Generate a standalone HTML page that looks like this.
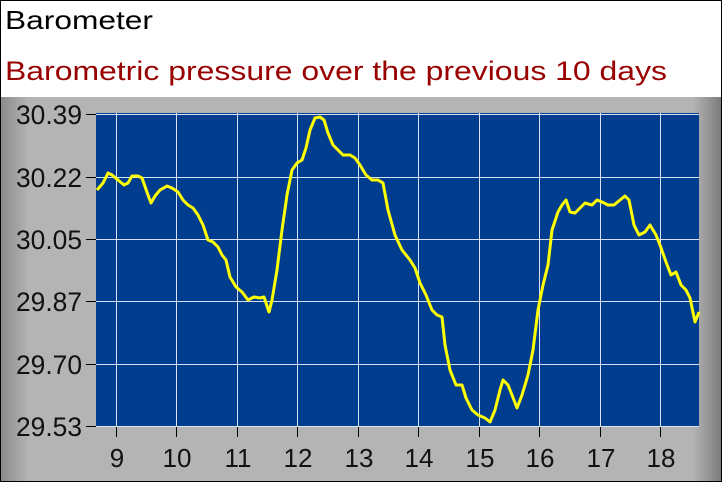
<!DOCTYPE html>
<html><head><style>
html,body{margin:0;padding:0;background:#fff}
svg{display:block}
text{font-family:"Liberation Sans",Arial,sans-serif}
</style></head><body>
<svg width="722" height="482" xmlns="http://www.w3.org/2000/svg">
<defs>
<linearGradient id="g" x1="0" x2="1" y1="0" y2="0">
<stop offset="0" stop-color="#8a8a8a"/><stop offset="0.04" stop-color="#b4b4b4"/><stop offset="0.96" stop-color="#b4b4b4"/><stop offset="1" stop-color="#7a7a7a"/>
</linearGradient>
</defs>
<rect x="0" y="0" width="722" height="482" fill="#fff"/>
<rect x="0" y="97" width="722" height="385" fill="url(#g)"/>
<rect x="0.5" y="0.5" width="721" height="481" fill="none" stroke="#000"/>
<text x="5" y="29" font-size="26" fill="#000" textLength="148" lengthAdjust="spacingAndGlyphs">Barometer</text>
<text x="5" y="80" font-size="27" fill="#990000" textLength="662" lengthAdjust="spacingAndGlyphs">Barometric pressure over the previous 10 days</text>
<rect x="96" y="113" width="603" height="314" fill="#003d8f"/>
<g stroke="#d8e2f4" stroke-width="1">
<line x1="96" x2="699" y1="114.5" y2="114.5"/>
<line x1="96" x2="699" y1="177.5" y2="177.5"/>
<line x1="96" x2="699" y1="239.5" y2="239.5"/>
<line x1="96" x2="699" y1="301.5" y2="301.5"/>
<line x1="96" x2="699" y1="364.5" y2="364.5"/>
<line x1="96" x2="699" y1="426.5" y2="426.5"/>
<line y1="113" y2="427" x1="116.5" x2="116.5"/>
<line y1="113" y2="427" x1="176.5" x2="176.5"/>
<line y1="113" y2="427" x1="237.5" x2="237.5"/>
<line y1="113" y2="427" x1="297.5" x2="297.5"/>
<line y1="113" y2="427" x1="358.5" x2="358.5"/>
<line y1="113" y2="427" x1="418.5" x2="418.5"/>
<line y1="113" y2="427" x1="479.5" x2="479.5"/>
<line y1="113" y2="427" x1="539.5" x2="539.5"/>
<line y1="113" y2="427" x1="600.5" x2="600.5"/>
<line y1="113" y2="427" x1="660.5" x2="660.5"/>
</g>
<g stroke="#000" stroke-width="1">
<line x1="86" x2="96" y1="114.5" y2="114.5"/><line x1="86" x2="96" y1="177.5" y2="177.5"/><line x1="86" x2="96" y1="239.5" y2="239.5"/><line x1="86" x2="96" y1="301.5" y2="301.5"/><line x1="86" x2="96" y1="364.5" y2="364.5"/><line x1="86" x2="96" y1="426.5" y2="426.5"/>
<line y1="427" y2="437" x1="116.5" x2="116.5"/><line y1="427" y2="437" x1="176.5" x2="176.5"/><line y1="427" y2="437" x1="237.5" x2="237.5"/><line y1="427" y2="437" x1="297.5" x2="297.5"/><line y1="427" y2="437" x1="358.5" x2="358.5"/><line y1="427" y2="437" x1="418.5" x2="418.5"/><line y1="427" y2="437" x1="479.5" x2="479.5"/><line y1="427" y2="437" x1="539.5" x2="539.5"/><line y1="427" y2="437" x1="600.5" x2="600.5"/><line y1="427" y2="437" x1="660.5" x2="660.5"/>
</g>
<g font-size="27" fill="#111" text-anchor="end">
<text x="82" y="124" textLength="66" lengthAdjust="spacingAndGlyphs">30.39</text><text x="82" y="187" textLength="66" lengthAdjust="spacingAndGlyphs">30.22</text><text x="82" y="249" textLength="66" lengthAdjust="spacingAndGlyphs">30.05</text><text x="82" y="311" textLength="66" lengthAdjust="spacingAndGlyphs">29.87</text><text x="82" y="374" textLength="66" lengthAdjust="spacingAndGlyphs">29.70</text><text x="82" y="436" textLength="66" lengthAdjust="spacingAndGlyphs">29.53</text>
</g>
<g font-size="26" fill="#111" text-anchor="middle">
<text x="117" y="467">9</text><text x="177" y="467">10</text><text x="238" y="467">11</text><text x="298" y="467">12</text><text x="359" y="467">13</text><text x="419" y="467">14</text><text x="480" y="467">15</text><text x="540" y="467">16</text><text x="601" y="467">17</text><text x="661" y="467">18</text>
</g>
<polyline fill="none" stroke="#ffff00" stroke-width="3" stroke-linejoin="round" points="97,190 103,183 108,173 112,175 118,180 124,185 128,183 132,176 138,176 142,178 148,195 151,203 155,196 160,190 167,186 172,188 178,192 183,200 188,205 193,208 198,215 203,225 208,240 213,242 218,247 222,255 226,260 230,277 236,287 242,292 248,300 254,297 260,298 264,297 269,312 272,300 277,270 282,230 287,195 292,170 297,163 302,160 306,148 310,130 315,118 320,117 324,120 328,133 333,145 338,150 343,155 350,155 355,158 360,165 366,175 372,180 378,180 383,183 388,210 395,235 402,250 410,260 415,268 420,283 426,295 432,310 437,315 442,317 445,345 450,370 456,385 462,385 466,398 472,410 478,415 485,418 490,422 495,410 500,390 503,380 508,385 512,395 517,408 522,395 528,375 533,350 538,310 543,285 548,265 552,230 558,212 562,205 566,200 570,212 575,213 580,208 585,203 592,205 597,200 602,202 608,205 614,205 620,200 625,196 629,200 634,225 639,235 645,232 650,225 656,235 660,245 666,262 671,275 676,272 681,285 686,290 690,298 695,322 699,312"/>
</svg>
</body></html>
